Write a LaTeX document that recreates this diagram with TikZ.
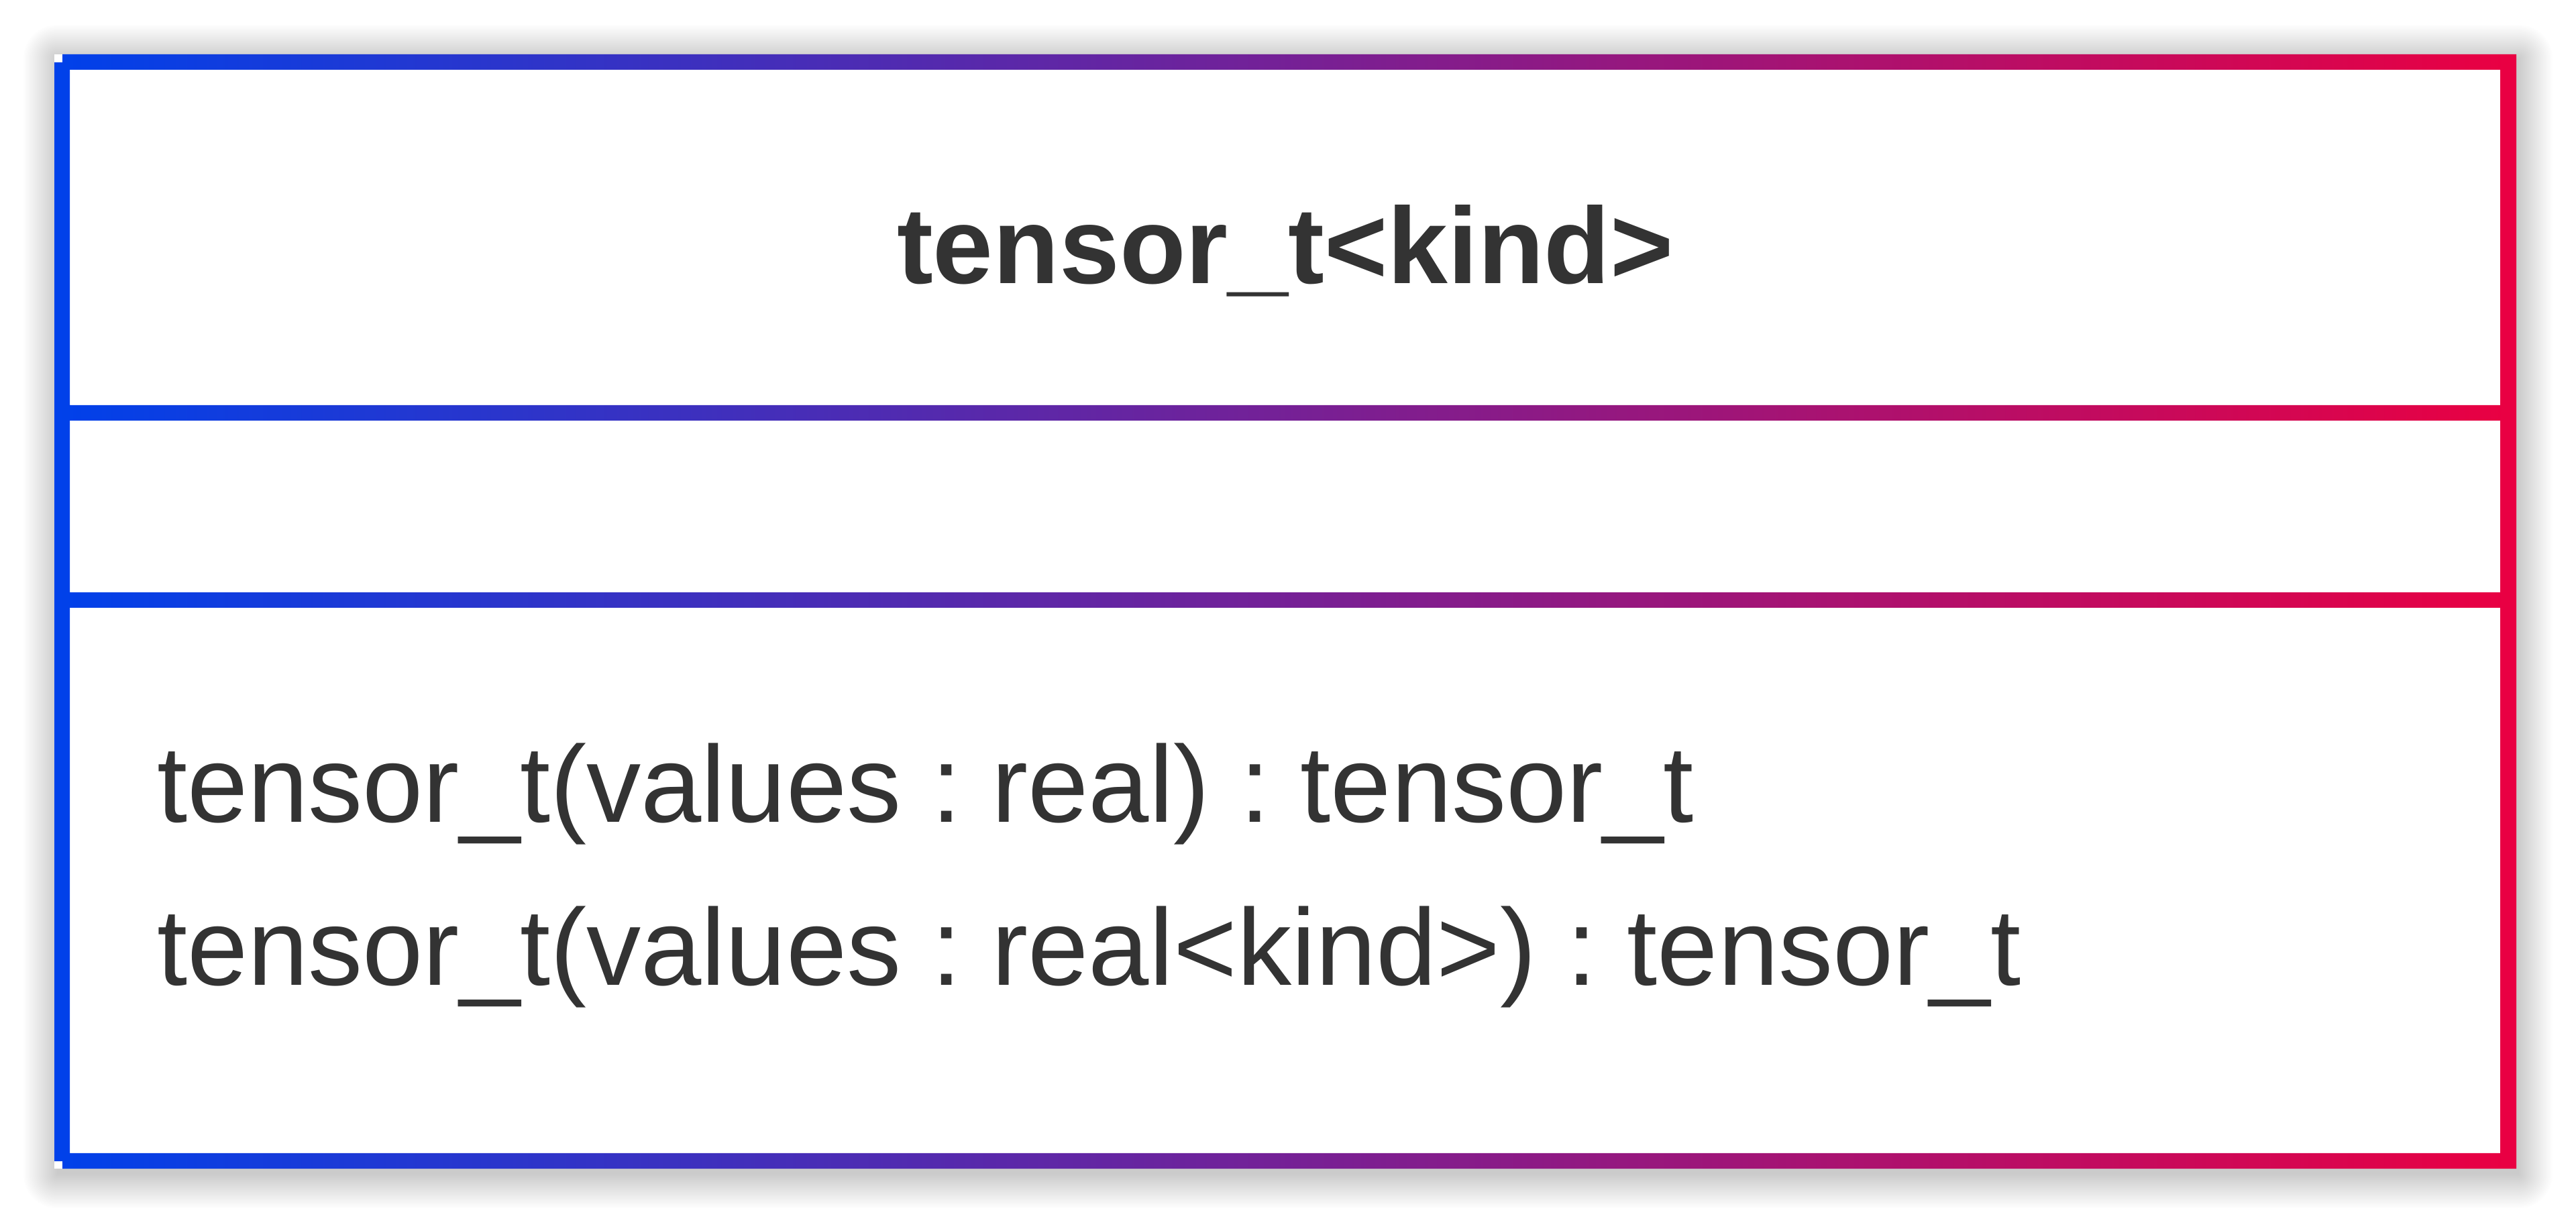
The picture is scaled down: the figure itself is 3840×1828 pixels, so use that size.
\documentclass[tikz,border=0pt]{standalone}
\usepackage{fontspec}
\setmainfont{Liberation Sans}
\definecolor{frameblue}{RGB}{0,65,234}
\definecolor{framered}{RGB}{234,0,66}
\definecolor{ink}{RGB}{51,51,51}

\begin{document}
\frenchspacing
\begin{tikzpicture}[x=1pt,y=1pt,
  txt/.style={inner sep=0pt, outer sep=0pt, text=ink,
    font=\fontsize{162.3pt}{243pt}\selectfont},
  titletxt/.style={txt, font=\fontsize{161.5pt}{242pt}\selectfont\bfseries},
  shadowlayer/.style={fill=black, fill opacity=0.0075}]
\useasboundingbox[fill=white] (0,0) rectangle (3840,1828);

% soft shadow: stacked translucent rounded layers, slightly offset downwards
\foreach \r in {50,48,...,0}{
  \fill[shadowlayer, rounded corners={\r pt + 0.1pt}]
    (81+4-\r,86-9-\r) rectangle (3751+4+\r,1747-6+\r);
}

% class box
\fill[white] (81,86) rectangle (3751,1747);

% frame and compartment separators, shaded blue to red
\shade[left color=frameblue, right color=framered, even odd rule]
  (93,1747) -- (3751,1747) -- (3751,86) -- (93,86) -- (93,97) -- (81,97)
    -- (81,1735) -- (93,1735) -- cycle
  (104,1724) rectangle (3727,1224)
  (104,1201) rectangle (3727,945)
  (104,922) rectangle (3727,109);

% class name
\node[titletxt, anchor=base] (name) at (1916,1405) {tensor\_t<kind>};

% operations
\node[txt, anchor=base west] (op1) at (234,602) {tensor\_t(values : real) : tensor\_t};
\node[txt, anchor=base west] (op2) at (234,359) {tensor\_t(values : real<kind>) : tensor\_t};
\end{tikzpicture}
\end{document}
